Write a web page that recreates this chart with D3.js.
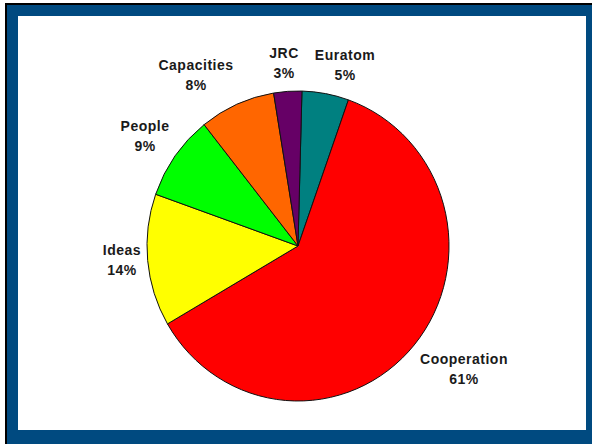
<!DOCTYPE html>
<html>
<head>
<meta charset="utf-8">
<script src="https://cdn.jsdelivr.net/npm/d3@7"></script>
<style>
  body { margin: 0; background: #fff; }
  svg { display: block; }
  text { font-family: "Liberation Sans", Arial, sans-serif; font-weight: bold; font-size: 14px; fill: #1a1a1a; letter-spacing: 0.5px; }
</style>
</head>
<body>
<svg id="chart" width="592" height="444"></svg>
<script>
const categories = ['Euratom', 'Cooperation', 'Ideas', 'People', 'Capacities', 'JRC'];
const shares = [5.0, 61.2, 13.8, 8.9, 8.1, 3.0];
const pctLabels = ['5%', '61%', '14%', '9%', '8%', '3%'];
const colors = ['#008080', '#ff0000', '#ffff00', '#00ff00', '#ff6600', '#660066'];
// label anchor points (centre of first line)
const labelPos = [[345, 60], [464, 364], [122, 255], [145, 131], [196, 70], [284, 58]];

const svg = d3.select('#chart');
const W = 592, H = 444;

// frame
svg.append('rect').attr('x', 5).attr('y', 3).attr('width', W - 5).attr('height', H - 3).attr('fill', '#000');
svg.append('rect').attr('x', 7).attr('y', 5).attr('width', W - 7).attr('height', H - 5).attr('fill', '#004a80');
svg.append('rect').attr('x', 18).attr('y', 16).attr('width', 586 - 18).attr('height', 430 - 16).attr('fill', '#fff');

// pie
const cx = 298, cy = 246, rx = 151, ry = 155;
const start = 1.5 * Math.PI / 180;
const pie = d3.pie().sort(null).value(d => d).startAngle(start).endAngle(start + 2 * Math.PI);
const arc = d3.arc().innerRadius(0).outerRadius(rx);

const g = svg.append('g').attr('transform', `translate(${cx},${cy}) scale(1,${ry / rx})`);
g.selectAll('path')
  .data(pie(shares))
  .enter()
  .append('path')
  .attr('d', arc)
  .attr('fill', (d, i) => colors[i])
  .attr('stroke', '#111')
  .attr('stroke-width', 1)
  .attr('vector-effect', 'non-scaling-stroke');

// labels
const lbl = svg.append('g');
categories.forEach((c, i) => {
  const t = lbl.append('text')
    .attr('x', labelPos[i][0])
    .attr('y', labelPos[i][1])
    .attr('text-anchor', 'middle');
  t.append('tspan').attr('x', labelPos[i][0]).text(c);
  t.append('tspan').attr('x', labelPos[i][0]).attr('dy', 20).text(pctLabels[i]);
});
</script>
</body>
</html>
